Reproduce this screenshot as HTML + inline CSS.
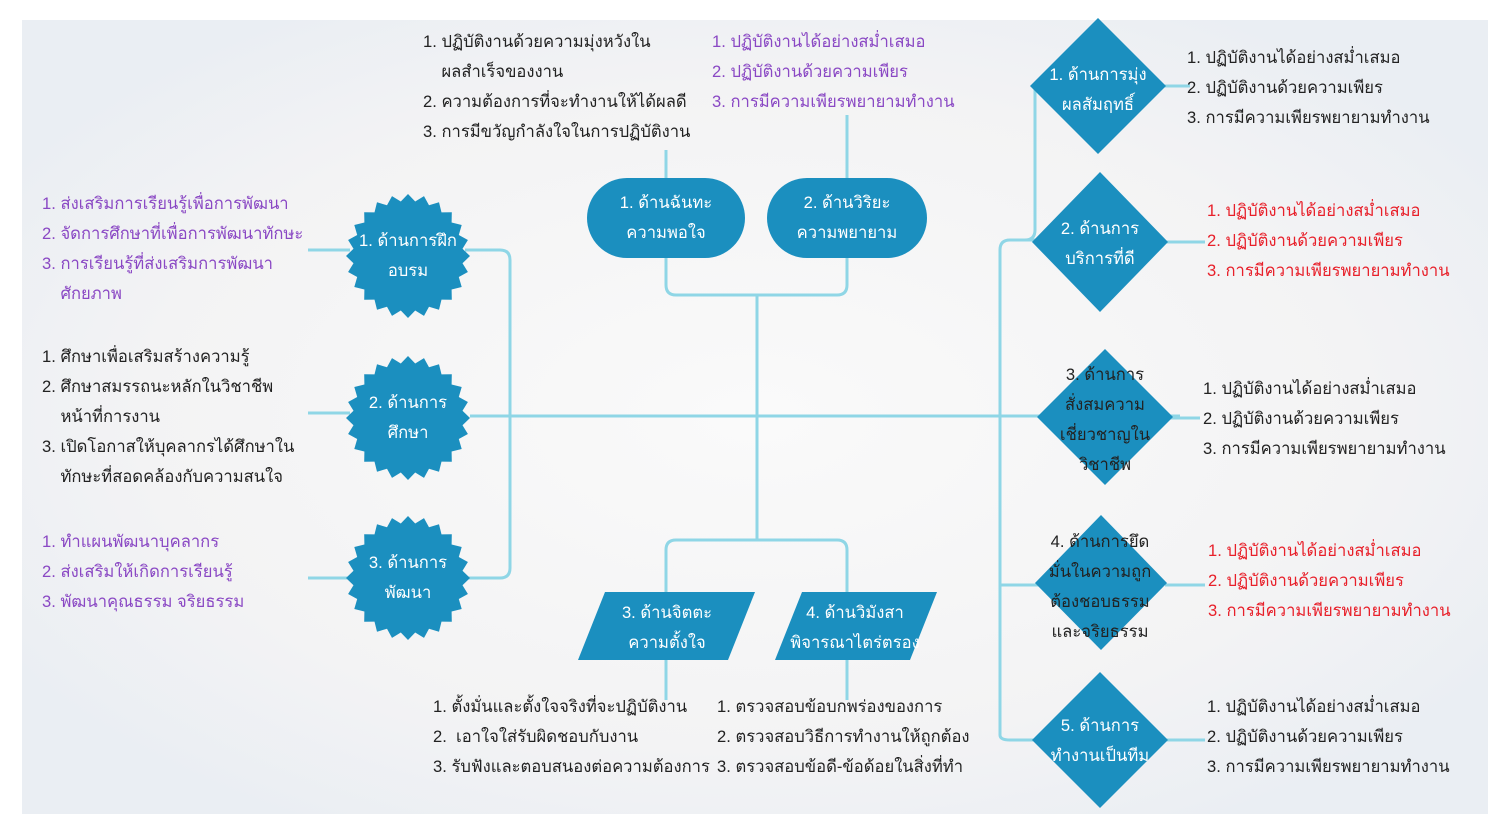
<!DOCTYPE html>
<html><head><meta charset="utf-8"><style>
html,body{margin:0;padding:0;width:1510px;height:834px;overflow:hidden;background:#fff;}
svg{position:absolute;left:0;top:0}
.t{position:absolute;font-family:"Liberation Sans","DejaVu Sans",sans-serif;font-size:16.6px;line-height:30px;white-space:nowrap;color:#222}
.p{color:#8a48c4}.r{color:#e8202a}
</style></head><body>
<svg width="1510" height="834" viewBox="0 0 1510 834">
<defs><radialGradient id="bg" cx="50%" cy="50%" r="60%"><stop offset="0" stop-color="#fafafa"/><stop offset="0.7" stop-color="#f3f3f4"/><stop offset="1" stop-color="#eaeef3"/></radialGradient></defs>
<rect x="22" y="20" width="1466" height="794" fill="url(#bg)"/>
<g fill="none" stroke="#8fd6e6" stroke-width="3">
<path d="M308 250H350M308 413H350M308 578H350"/>
<path d="M465 250H500Q510 250 510 260V568Q510 578 500 578H465"/>
<path d="M470 416H1180"/>
<path d="M666 150V180M847 115V180"/>
<path d="M666 258V285Q666 295 676 295H837Q847 295 847 285V258"/>
<path d="M757 295V540"/>
<path d="M666 592V550Q666 540 676 540H837Q847 540 847 550V592"/>
<path d="M666 660V700M847 660V700"/>
<path d="M1010 240H1025Q1035 240 1035 230V86"/>
<path d="M1000 735V250Q1000 240 1010 240H1040"/>
<path d="M1000 585H1040M1000 735Q1000 740 1010 740H1040"/>
<path d="M1160 86H1190M1165 242H1205M1170 418H1200M1165 585H1205M1165 740H1205"/>
</g>
<g id="stars" fill="#1b8fbf"></g>
<rect x="587" y="178" width="158" height="80" rx="40" fill="#1b8fbf"/>
<rect x="767" y="178" width="160" height="80" rx="40" fill="#1b8fbf"/>
<polygon points="605,592 755,592 728,660 578,660" fill="#1b8fbf"/>
<polygon points="802,592 937,592 910,660 775,660" fill="#1b8fbf"/>
<g fill="#1b8fbf">
<polygon points="1098,18 1166,86 1098,154 1030,86"/>
<polygon points="1100,172 1168,242 1100,312 1032,242"/>
<polygon points="1105,349 1173,417 1105,485 1037,417"/>
<polygon points="1101,515 1167,583 1101,650 1035,583"/>
<polygon points="1100,672 1168,740 1100,808 1032,740"/>
</g>
</svg>
<script>
var g=document.getElementById('stars'),c=[[408,256],[408,418],[408,578]];
c.forEach(function(p){var s='';for(var i=0;i<48;i++){var a=Math.PI*2*i/48,r=i%2?55:62;s+=(p[0]+r*Math.sin(a)).toFixed(1)+','+(p[1]-r*Math.cos(a)).toFixed(1)+' ';}
var e=document.createElementNS('http://www.w3.org/2000/svg','polygon');e.setAttribute('points',s);g.appendChild(e);});
</script>
<div class="t p" style="left:42px;top:189px">1. ส่งเสริมการเรียนรู้เพื่อการพัฒนา<br>2. จัดการศึกษาที่เพื่อการพัฒนาทักษะ<br>3. การเรียนรู้ที่ส่งเสริมการพัฒนา<br>&nbsp;&nbsp;&nbsp;&nbsp;ศักยภาพ</div>
<div class="t" style="left:42px;top:342px">1. ศึกษาเพื่อเสริมสร้างความรู้<br>2. ศึกษาสมรรถนะหลักในวิชาชีพ<br>&nbsp;&nbsp;&nbsp;&nbsp;หน้าที่การงาน<br>3. เปิดโอกาสให้บุคลากรได้ศึกษาใน<br>&nbsp;&nbsp;&nbsp;&nbsp;ทักษะที่สอดคล้องกับความสนใจ</div>
<div class="t p" style="left:42px;top:527px">1. ทำแผนพัฒนาบุคลากร<br>2. ส่งเสริมให้เกิดการเรียนรู้<br>3. พัฒนาคุณธรรม จริยธรรม</div>
<div class="t" style="left:348px;top:226px;width:120px;text-align:center;color:#fff">1. ด้านการฝึก<br>อบรม</div>
<div class="t" style="left:348px;top:388px;width:120px;text-align:center;color:#fff">2. ด้านการ<br>ศึกษา</div>
<div class="t" style="left:348px;top:548px;width:120px;text-align:center;color:#fff">3. ด้านการ<br>พัฒนา</div>
<div class="t" style="left:423px;top:27px">1. ปฏิบัติงานด้วยความมุ่งหวังใน<br>&nbsp;&nbsp;&nbsp;&nbsp;ผลสำเร็จของงาน<br>2. ความต้องการที่จะทำงานให้ได้ผลดี<br>3. การมีขวัญกำลังใจในการปฏิบัติงาน</div>
<div class="t p" style="left:712px;top:27px">1. ปฏิบัติงานได้อย่างสม่ำเสมอ<br>2. ปฏิบัติงานด้วยความเพียร<br>3. การมีความเพียรพยายามทำงาน</div>
<div class="t" style="left:587px;top:188px;width:158px;text-align:center;color:#fff">1. ด้านฉันทะ<br>ความพอใจ</div>
<div class="t" style="left:767px;top:188px;width:160px;text-align:center;color:#fff">2. ด้านวิริยะ<br>ความพยายาม</div>
<div class="t" style="left:588px;top:598px;width:158px;text-align:center;color:#fff">3. ด้านจิตตะ<br>ความตั้งใจ</div>
<div class="t" style="left:775px;top:598px;width:160px;text-align:center;color:#fff">4. ด้านวิมังสา<br>พิจารณาไตร่ตรอง</div>
<div class="t" style="left:433px;top:692px">1. ตั้งมั่นและตั้งใจจริงที่จะปฏิบัติงาน<br>2.&nbsp; เอาใจใส่รับผิดชอบกับงาน<br>3. รับฟังและตอบสนองต่อความต้องการ</div>
<div class="t" style="left:717px;top:692px">1. ตรวจสอบข้อบกพร่องของการ<br>2. ตรวจสอบวิธีการทำงานให้ถูกต้อง<br>3. ตรวจสอบข้อดี-ข้อด้อยในสิ่งที่ทำ</div>
<div class="t" style="left:1038px;top:60px;width:120px;text-align:center;color:#fff">1. ด้านการมุ่ง<br>ผลสัมฤทธิ์</div>
<div class="t" style="left:1040px;top:214px;width:120px;text-align:center;color:#fff">2. ด้านการ<br>บริการที่ดี</div>
<div class="t" style="left:1045px;top:360px;width:120px;text-align:center;color:#222">3. ด้านการ<br>สั่งสมความ<br>เชี่ยวชาญใน<br>วิชาชีพ</div>
<div class="t" style="left:1040px;top:527px;width:120px;text-align:center;color:#222">4. ด้านการยึด<br>มั่นในความถูก<br>ต้องชอบธรรม<br>และจริยธรรม</div>
<div class="t" style="left:1040px;top:711px;width:120px;text-align:center;color:#fff">5. ด้านการ<br>ทำงานเป็นทีม</div>
<div class="t" style="left:1187px;top:43px">1. ปฏิบัติงานได้อย่างสม่ำเสมอ<br>2. ปฏิบัติงานด้วยความเพียร<br>3. การมีความเพียรพยายามทำงาน</div>
<div class="t r" style="left:1207px;top:196px">1. ปฏิบัติงานได้อย่างสม่ำเสมอ<br>2. ปฏิบัติงานด้วยความเพียร<br>3. การมีความเพียรพยายามทำงาน</div>
<div class="t" style="left:1203px;top:374px">1. ปฏิบัติงานได้อย่างสม่ำเสมอ<br>2. ปฏิบัติงานด้วยความเพียร<br>3. การมีความเพียรพยายามทำงาน</div>
<div class="t r" style="left:1208px;top:536px">1. ปฏิบัติงานได้อย่างสม่ำเสมอ<br>2. ปฏิบัติงานด้วยความเพียร<br>3. การมีความเพียรพยายามทำงาน</div>
<div class="t" style="left:1207px;top:692px">1. ปฏิบัติงานได้อย่างสม่ำเสมอ<br>2. ปฏิบัติงานด้วยความเพียร<br>3. การมีความเพียรพยายามทำงาน</div>
</body></html>
